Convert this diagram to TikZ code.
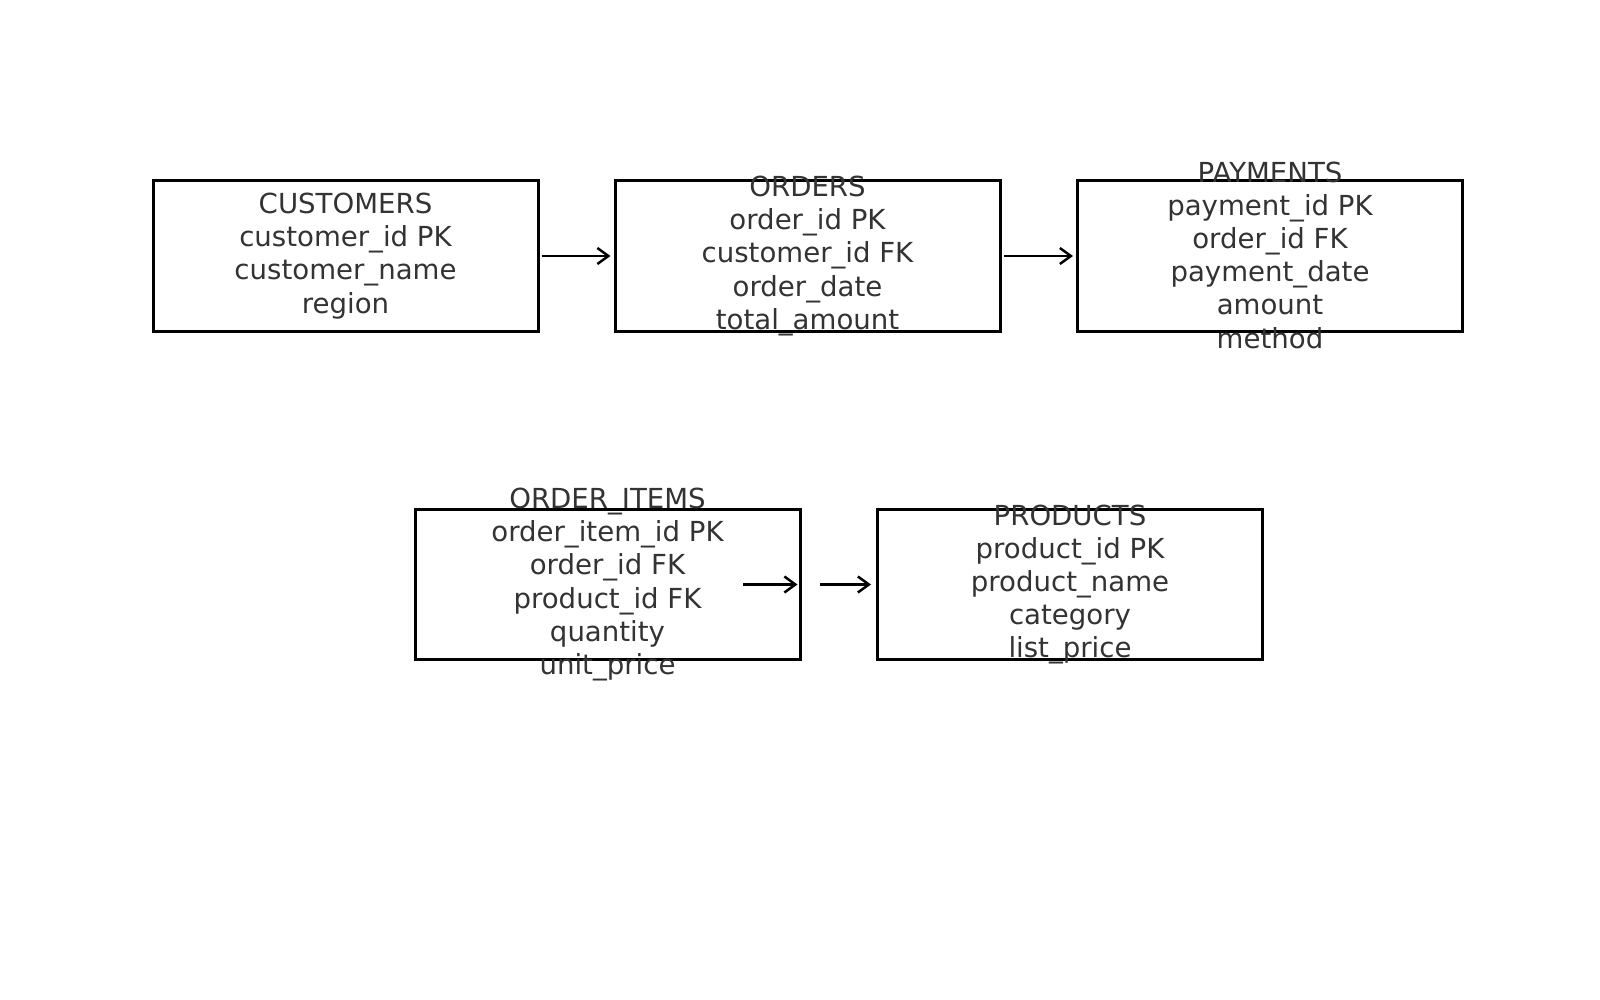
\documentclass[tikz,border=0pt]{standalone}
\usepackage{fontspec}
\setmainfont{DejaVu Sans}
\usetikzlibrary{arrows.meta}
\definecolor{txtgray}{HTML}{333333}
\begin{document}
\begin{tikzpicture}[x=0.5pt,y=-0.5pt,
  tblbox/.style={draw=black,line width=1.5pt,minimum width=192.5pt,minimum height=75pt,inner sep=0pt},
  tbltext/.style={text=txtgray,align=center,inner sep=0pt,font=\fontsize{13.8}{16.6}\selectfont},
  conn/.style={draw=black,line width=1.25pt,-{Straight Barb[length=5.5pt,width=8pt,line width=1.25pt]}}]
\useasboundingbox[fill=white] (0,0) rectangle (1600,1000);
% boxes
\node[tblbox] (cust) at (345.5,256) {};
\node[tblbox] (ord) at (807.5,256) {};
\node[tblbox] (pay) at (1270,256) {};
\node[tblbox] (oi) at (607.5,584.5) {};
\node[tblbox] (prod) at (1070,584.5) {};
% texts
\node[tbltext] (custt) at (cust.center) {CUSTOMERS\\customer\_id PK\\customer\_name\\region};
\node[tbltext] (ordt) at (ord.center) {ORDERS\\order\_id PK\\customer\_id FK\\order\_date\\total\_amount};
\node[tbltext] (payt) at ([yshift=0.5pt]pay.center) {PAYMENTS\\payment\_id PK\\order\_id FK\\payment\_date\\amount\\method};
\node[tbltext] (oit) at (oi.center) {ORDER\_ITEMS\\order\_item\_id PK\\order\_id FK\\product\_id FK\\quantity\\unit\_price};
\node[tbltext] (prodt) at (prod.center) {PRODUCTS\\product\_id PK\\product\_name\\category\\list\_price};
% connectors
\draw[conn,shorten <=1pt,shorten >=1.5pt] (cust.east) -- (ord.west);
\draw[conn,shorten <=1pt,shorten >=1.5pt] (ord.east) -- (pay.west);
\coordinate (oia) at (743,584.5);
\draw[conn,shorten >=2pt] (oia) -- (oi.east);
\draw[conn,shorten <=9pt,shorten >=2.5pt] (oi.east) -- (prod.west);
\end{tikzpicture}
\end{document}
